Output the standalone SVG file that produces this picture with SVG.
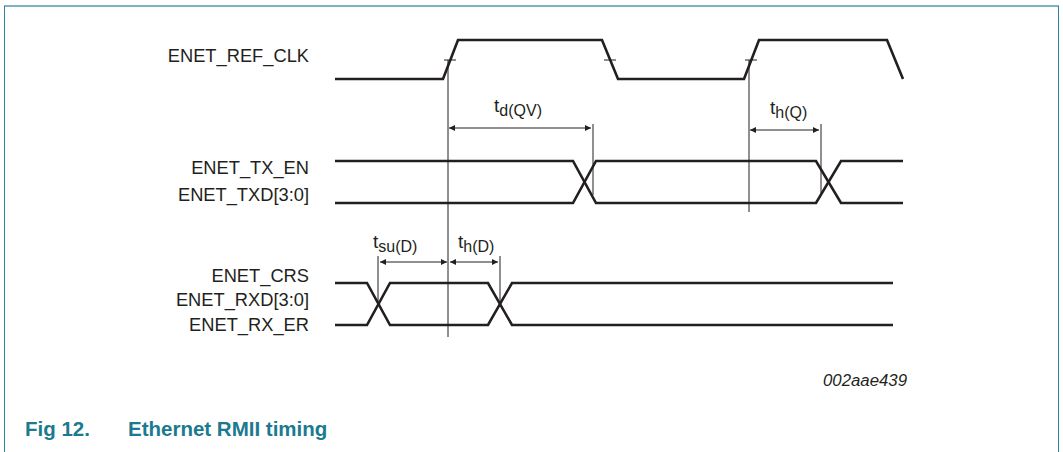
<svg xmlns="http://www.w3.org/2000/svg" width="1063" height="452" viewBox="0 0 1063 452">
<style>
.wave{fill:none;stroke:#231f20;stroke-width:2.6;stroke-linejoin:miter}
.thin{fill:none;stroke:#231f20;stroke-width:1}
.lbl{font-family:"Liberation Sans",Arial,sans-serif;font-size:18.3px;fill:#231f20;text-anchor:end}
.tl{font-family:"Liberation Sans",Arial,sans-serif;font-size:19px;fill:#231f20}
.sub{font-size:16px}
.cap{font-family:"Liberation Sans",Arial,sans-serif;font-size:20.5px;font-weight:bold;fill:#1b7a8e}
</style>
<defs>
<marker id="ah" viewBox="0 0 10 10" refX="10" refY="5" markerWidth="9" markerHeight="6" markerUnits="userSpaceOnUse" orient="auto-start-reverse">
<path d="M0,0 L10,5 L0,10 Z" fill="#231f20"/>
</marker>
</defs>
<rect width="1063" height="452" fill="#fff"/>
<g id="frame">
<line x1="4" y1="6" x2="1059" y2="6" stroke="#7ab5c2" stroke-width="2"/>
<line x1="4.5" y1="6" x2="4.5" y2="452" stroke="#2a86a0" stroke-width="1"/>
<line x1="1058.5" y1="6" x2="1058.5" y2="452" stroke="#2a86a0" stroke-width="1"/>
</g>
<g id="sig-refclk">
<text class="lbl" x="309" y="62">ENET_REF_CLK</text>
<path class="wave" d="M335,79 L443,79 L458,40 L602,40 L618,79 L744,79 L759,40 L887,40 L903,79"/>
<path class="thin" d="M444,60 H456 M604,60 H616 M745,60 H757"/>
</g>
<g id="sig-tx">
<text class="lbl" x="309" y="174">ENET_TX_EN</text>
<text class="lbl" x="309" y="201">ENET_TXD[3:0]</text>
<path class="wave" d="M335,161 L573,161 L596,203 L816,203 L841,161 L903,161"/>
<path class="wave" d="M335,203 L573,203 L596,161 L816,161 L841,203 L903,203"/>
</g>
<g id="sig-rx">
<text class="lbl" x="309" y="282">ENET_CRS</text>
<text class="lbl" x="309" y="306">ENET_RXD[3:0]</text>
<text class="lbl" x="309" y="331">ENET_RX_ER</text>
<path class="wave" d="M335,283 L367,283 L390,325 L488,325 L512,283 L893,283"/>
<path class="wave" d="M335,325 L367,325 L390,283 L488,283 L512,325 L893,325"/>
</g>
<g id="connectors">
<line class="thin" x1="448" y1="60" x2="448" y2="337"/>
<line class="thin" x1="749" y1="60" x2="749" y2="212"/>
<line class="thin" x1="593" y1="124" x2="593" y2="195"/>
<line class="thin" x1="821" y1="124" x2="821" y2="193"/>
<line class="thin" x1="378" y1="256" x2="378" y2="304"/>
<line class="thin" x1="500" y1="256" x2="500" y2="304"/>
<line class="thin" x1="449" y1="128" x2="591" y2="128" marker-start="url(#ah)" marker-end="url(#ah)"/>
<line class="thin" x1="750" y1="130" x2="819" y2="130" marker-start="url(#ah)" marker-end="url(#ah)"/>
<line class="thin" x1="380" y1="262" x2="447" y2="262" marker-start="url(#ah)" marker-end="url(#ah)"/>
<line class="thin" x1="450" y1="262" x2="498" y2="262" marker-start="url(#ah)" marker-end="url(#ah)"/>
</g>
<g id="timing-labels">
<text class="tl" x="494" y="112">t<tspan class="sub" dy="4">d(QV)</tspan></text>
<text class="tl" x="770" y="114">t<tspan class="sub" dy="4">h(Q)</tspan></text>
<text class="tl" x="373" y="248">t<tspan class="sub" dy="4">su(D)</tspan></text>
<text class="tl" x="458" y="248">t<tspan class="sub" dy="4">h(D)</tspan></text>
</g>
<text x="823" y="386" font-family="'Liberation Sans',Arial,sans-serif" font-size="16.8" font-style="italic" fill="#231f20">002aae439</text>
<g id="caption">
<text class="cap" x="25" y="436">Fig 12.</text>
<text class="cap" x="128" y="436">Ethernet RMII timing</text>
</g>
</svg>
